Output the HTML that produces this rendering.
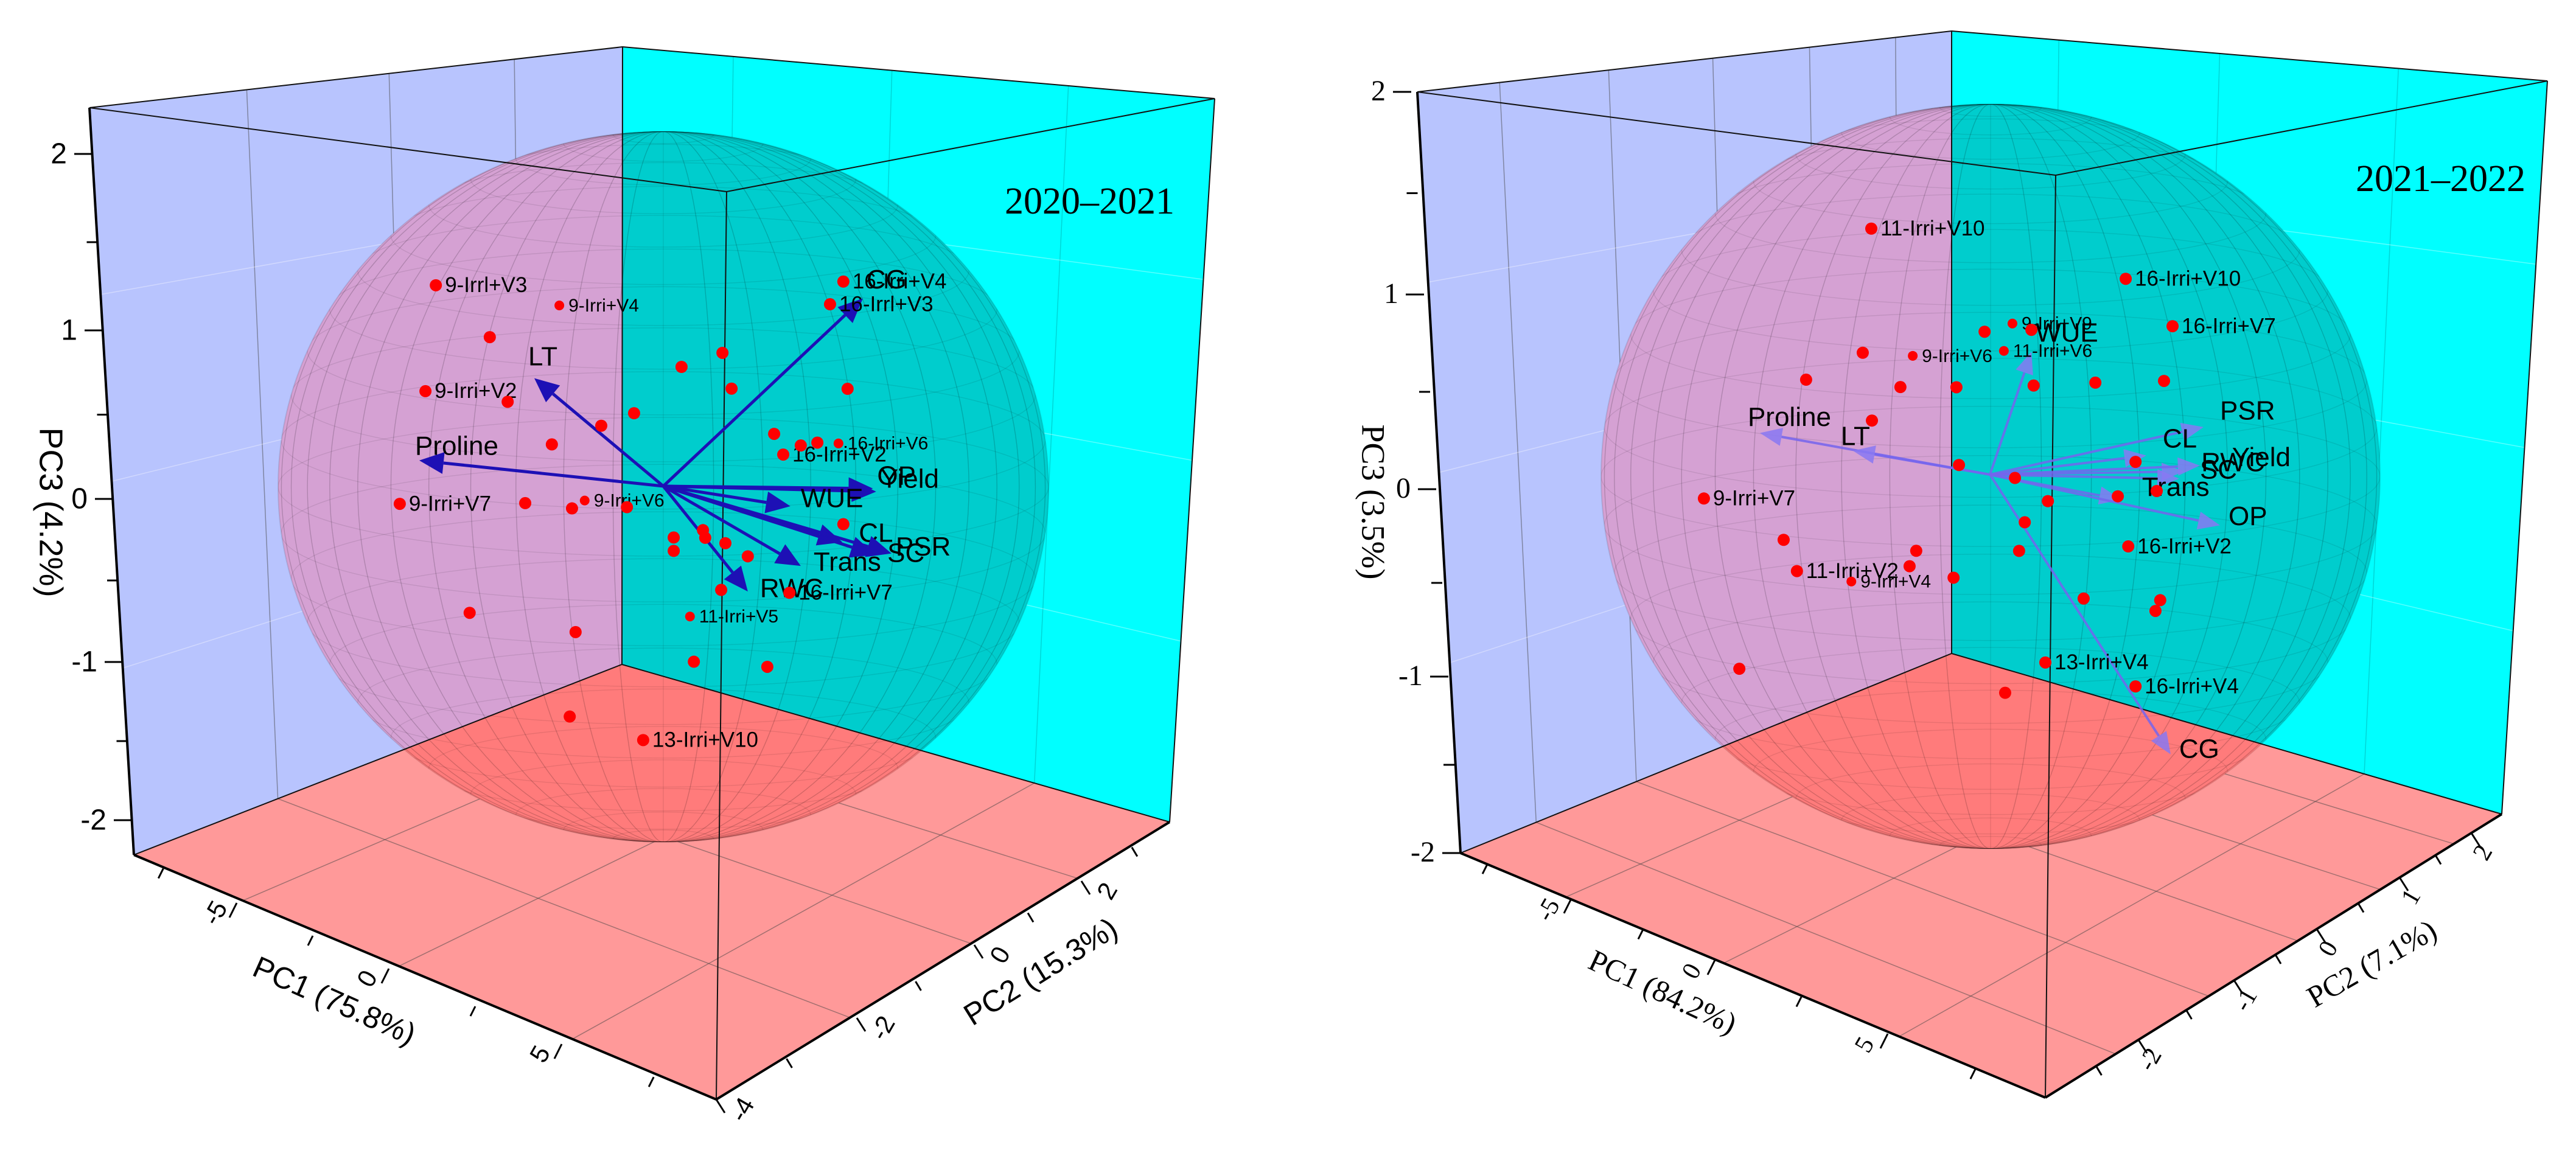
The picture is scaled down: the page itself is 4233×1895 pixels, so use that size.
<!DOCTYPE html>
<html>
<head>
<meta charset="utf-8">
<style>
html,body{margin:0;padding:0;background:#fff;}
svg{display:block;}
</style>
</head>
<body>
<svg id="chart" width="4233" height="1895" viewBox="0 0 4233 1895">
<rect x="0" y="0" width="4233" height="1895" fill="#ffffff"/>
</svg>
<script>
// ---------------- DATA: 2020-2021 ----------------
const leftPc1 = [-7.00,-3.20,-5.34,-7.32,-4.79,-1.91,-3.43,-0.90,-8.11,-4.25,-2.81,-2.42,-1.12,0.56,1.82,2.10,5.54,5.13,5.67,3.41,3.69,4.23,4.74,5.39,5.54,0.32,0.32,1.22,1.29,1.91,2.60,1.78,3.88,0.82,0.94,3.20,-5.96,-2.70,-2.88,-0.62];
const leftPc3 = [0.61,0.81,0.44,-0.05,0.10,0.20,-0.04,0.36,-0.79,-0.46,-0.37,-0.29,-0.22,0.76,0.95,0.76,1.69,1.52,1.06,0.60,0.50,0.60,0.66,0.71,0.24,-0.28,-0.36,-0.16,-0.20,-0.18,-0.20,-0.47,-0.31,-0.71,-0.97,-0.81,-1.26,-1.10,-1.62,-1.57];
const leftSampleLabels = ["9-Irrl+V3","9-Irri+V4","","9-Irri+V2","","","","","9-Irri+V7","","","9-Irri+V6","","","","","16-Irri+V4","16-Irrl+V3","","","16-Irri+V2","","","16-Irri+V6","","","","","","","","","16-Irri+V7","11-Irri+V5","","","","","","13-Irri+V10"];
const leftVars = ["LT","Proline","CG","OP","Yield","WUE","CL","SC","PSR","Trans","RWC"];
const leftVarPc1 = [-3.97,-7.51,6.14,6.45,6.55,3.91,5.51,6.52,7.02,4.23,2.60];
const leftVarPc3 = [0.31,-0.48,1.64,0.53,0.52,0.21,0.13,0.14,0.19,-0.12,-0.41];
const leftPc1Ticks = ["-5","0","5"];
const leftPc2Ticks = ["-4","-2","0","2"];
const leftPc3Ticks = ["-2","-1","0","1","2"];

// ---------------- DATA: 2021-2022 ----------------
const rightPc1 = [-3.75,4.29,5.77,0.71,-0.17,1.31,0.44,-2.44,-4.02,-5.81,-2.83,-1.06,1.38,3.33,5.50,-3.73,-0.98,0.79,4.60,5.27,4.04,1.83,-9.04,1.10,-6.52,-2.33,0.92,4.37,-6.10,-2.54,-4.38,-1.15,2.96,5.38,5.23,1.75,4.60,0.48,-7.92];
const rightPc3 = [1.07,1.39,1.24,0.88,0.77,0.89,0.71,0.47,0.37,0.09,0.27,0.40,0.59,0.75,0.92,0.02,-0.02,0.04,0.41,0.30,0.18,-0.01,-0.80,-0.18,-0.84,-0.59,-0.35,-0.07,-0.98,-0.69,-0.91,-0.65,-0.46,-0.29,-0.36,-0.90,-0.82,-1.16,-1.65];
const rightSampleLabels = ["11-Irri+V10","16-Irri+V10","16-Irri+V7","9-Irri+V9","","","11-Irri+V6","9-Irri+V6","","","","","","","","","","","","","","","9-Irri+V7","","","","","16-Irri+V2","11-Irri+V2","","9-Irri+V4","","","","","13-Irri+V4","16-Irri+V4","",""];
const rightVars = ["Proline","LT","WUE","PSR","CL","RWC","Yield","SC","Trans","OP","CG"];
const rightVarPc1 = [-7.27,-4.33,1.31,6.75,4.94,6.12,6.63,5.98,4.15,7.27,5.71];
const rightVarPc3 = [-0.31,-0.19,0.77,0.76,0.47,0.47,0.54,0.42,0.17,0.26,-1.11];
const rightPc1Ticks = ["-5","0","5"];
const rightPc2Ticks = ["-2","-1","0","1","2"];
const rightPc3Ticks = ["-2","-1","0","1","2"];

// ---------------- LAYOUT (geometry / styles) ----------------
const smallLabelsLeft = ["9-Irri+V4","9-Irri+V6","16-Irri+V6","11-Irri+V5"];
const smallLabelsRight = ["9-Irri+V9","11-Irri+V6","9-Irri+V6","9-Irri+V4"];
const leftLabelOff = [[-10,-33],[-7,-21],[6,-28],[7,-18],[7,-18],[17,-10],[27,-12],[20,0],[7,-8],[21,-4],[20,-2]];
const rightLabelOff = [[-20,-23],[-20,-21],[7,-28],[27,-24],[27,-25],[29,-12],[53,-11],[34,-12],[34,-18],[14,-12],[14,-6]];

const panels = [
 {id:"left", tickFont:'"Liberation Sans", sans-serif',
  TL:[147,177], BT:[1023,77], TR:[1996,162], FT:[1194,315], BB:[1022,1092], BL:[220,1405], BR:[1922,1351], FB:[1177,1807],
  O:[1090,799], e1:[53.4,23.2], e3:275, sph:[1090,800,633,584],
  blueFr:[0.295,0.562,0.797], cyanFr:[0.187,0.455,0.753],
  pc1Anch:[[-8.5,220,1405],[-5,389,1484],[0,639,1592],[5,923,1716],[9.2,1177,1807]],
  pc2Anch:[[-4,1177,1807],[-2,1408,1673],[0,1601,1553],[2,1777,1448],[3.75,1922,1351]],
  pc3Anch:[[2.28,147,177],[2,152,253],[1,169,543],[0,186,820],[-1,202,1088],[-2,217,1348],[-2.22,220,1405]],
  pc1Minor:[-7.5,-2.5,2.5,7.5], pc2Minor:[-3,-1,1,3], pc3Minor:[-1.5,-0.5,0.5,1.5],
  pc1LabOff:[-33,18], pc2LabOff:[45,18],
  pc1Title:"PC1 (75.8%)", pc1TitlePos:[548,1648,24],
  pc2Title:"PC2 (15.3%)", pc2TitlePos:[1712,1600,-32],
  pc3Title:"PC3 (4.2%)", pc3TitlePos:[80,842],
  title:"2020\u20132021", titlePos:[1651,351],
  pc1:leftPc1, pc3:leftPc3, labels:leftSampleLabels, small:smallLabelsLeft,
  vars:leftVars, vpc1:leftVarPc1, vpc3:leftVarPc3, voff:leftLabelOff,
  t1:leftPc1Ticks, t2:leftPc2Ticks, t3:leftPc3Ticks,
  arrowStroke:"#1d10b5", arrowFill:"#1d10b5", arrowOpacity:1, arrowWidth:5, AL:40, AW:18},
 {id:"right", tickFont:'"Liberation Serif", serif',
  TL:[2329,151], BT:[3207,51], TR:[4186,133], FT:[3378,288], BB:[3207,1074], BL:[2400,1402], BR:[4111,1338], FB:[3361,1804],
  O:[3270,780], e1:[52,22.2], e3:300, sph:[3271,783,640,612],
  blueFr:[0.154,0.358,0.553,0.734,0.895], cyanFr:[0.18,0.45,0.75],
  pc1Anch:[[-8.3,2400,1402],[-5,2582,1477],[0,2818,1578],[5,3102,1699],[9.5,3361,1804]],
  pc2Anch:[[-3.1,3361,1804],[-2,3514,1709],[-1,3671,1611],[0,3807,1527],[1,3943,1442],[2,4061,1369],[2.4,4111,1338]],
  pc3Anch:[[2.0,2319,151],[1,2340,484],[0,2360,804],[-1,2380,1112],[-2,2400,1402]],
  pc1Minor:[-7.5,-2.5,2.5,7.5], pc2Minor:[-2.5,-1.5,-0.5,0.5,1.5], pc3Minor:[-1.5,-0.5,0.5,1.5],
  pc1LabOff:[-35,20], pc2LabOff:[22,34],
  pc1Title:"PC1 (84.2%)", pc1TitlePos:[2730,1635,25],
  pc2Title:"PC2 (7.1%)", pc2TitlePos:[3900,1588,-30],
  pc3Title:"PC3 (3.5%)", pc3TitlePos:[2251,825],
  title:"2021\u20132022", titlePos:[3871,314],
  pc1:rightPc1, pc3:rightPc3, labels:rightSampleLabels, small:smallLabelsRight,
  vars:rightVars, vpc1:rightVarPc1, vpc3:rightVarPc3, voff:rightLabelOff,
  t1:rightPc1Ticks, t2:rightPc2Ticks, t3:rightPc3Ticks,
  arrowStroke:"#7565ee", arrowFill:"#8878f2", arrowOpacity:0.85, arrowWidth:4, AL:36, AW:15}
];

const svg = document.getElementById('chart');
const NS = svg.namespaceURI;
function el(tag, attrs, parent){
  const e = document.createElementNS(NS, tag);
  for (const k in attrs) e.setAttribute(k, attrs[k]);
  parent.appendChild(e);
  return e;
}
function pts(a){ return a.map(p => p[0]+','+p[1]).join(' '); }
function lerp(a,b,t){ return [a[0]+(b[0]-a[0])*t, a[1]+(b[1]-a[1])*t]; }
function axisPos(anch, v){
  const a = anch.slice().sort((p,q)=>p[0]-q[0]);
  let i = 0;
  while (i < a.length-2 && v > a[i+1][0]) i++;
  const t = (v - a[i][0])/(a[i+1][0]-a[i][0]);
  return [a[i][1]+(a[i+1][1]-a[i][1])*t, a[i][2]+(a[i+1][2]-a[i][2])*t];
}
function project(P, pc1, pc3){
  return [P.O[0] + pc1*P.e1[0], P.O[1] + pc1*P.e1[1] - pc3*P.e3];
}

panels.forEach(P => {
  const g = el('g', {}, svg);
  
  
  const defs = el('defs', {}, g);

  const blue = el('polygon', {points: pts([P.TL,P.BT,P.BB,P.BL]), fill:'#b8c4fe'}, g);
  
  
  const cyan = el('polygon', {points: pts([P.BT,P.TR,P.BR,P.BB]), fill:'#00ffff'}, g);
  
  
  const floor = el('polygon', {points: pts([P.BL,P.BB,P.BR,P.FB]), fill:'#ff9999'}, g);
  
  

  const grid = el('g', {stroke:'rgba(70,70,70,0.5)', 'stroke-width':1.5, fill:'none'}, g);
  
  
  P.blueFr.forEach(t => {
    const a = lerp(P.TL,P.BT,t), b = lerp(P.BL,P.BB,t), c = lerp(P.FB,P.BR,t);
    el('line', {x1:a[0],y1:a[1],x2:b[0],y2:b[1]}, grid);
    el('line', {x1:b[0],y1:b[1],x2:c[0],y2:c[1]}, grid);
  });
  P.cyanFr.forEach(t => {
    const a = lerp(P.BT,P.TR,t), b = lerp(P.BB,P.BR,t), c = lerp(P.BL,P.FB,t);
    el('line', {x1:a[0],y1:a[1],x2:b[0],y2:b[1], stroke:'rgba(0,120,120,0.3)'}, grid);
    el('line', {x1:b[0],y1:b[1],x2:c[0],y2:c[1]}, grid);
  });
  [0.25,0.5,0.75].forEach(t => {
    const a = lerp(P.TL,P.BL,t), b = lerp(P.BT,P.BB,t), c = lerp(P.TR,P.BR,t);
    el('line', {x1:a[0],y1:a[1],x2:b[0],y2:b[1], stroke:'rgba(255,255,255,0.35)'}, grid);
    el('line', {x1:b[0],y1:b[1],x2:c[0],y2:c[1], stroke:'rgba(255,255,255,0.35)'}, grid);
  });

  const [cx,cy,rx,ry] = P.sph;
  const cpB = el('clipPath', {id:'cb-'+P.id}, defs);
  el('polygon', {points: pts([P.TL,P.BT,P.BB,P.BL])}, cpB);
  const cpC = el('clipPath', {id:'cc-'+P.id}, defs);
  el('polygon', {points: pts([P.BT,P.TR,P.BR,P.BB])}, cpC);
  const cpF = el('clipPath', {id:'cf-'+P.id}, defs);
  el('polygon', {points: pts([P.BL,P.BB,P.BR,P.FB])}, cpF);
  const cpS = el('clipPath', {id:'cs-'+P.id}, defs);
  el('ellipse', {cx:cx,cy:cy,rx:rx,ry:ry}, cpS);

  const sph = el('g', {}, g);
  
  
  el('ellipse', {cx:cx,cy:cy,rx:rx,ry:ry, fill:'#d5a1d3', 'clip-path':'url(#cb-'+P.id+')'}, sph);
  el('ellipse', {cx:cx,cy:cy,rx:rx,ry:ry, fill:'#00cdcd', 'clip-path':'url(#cc-'+P.id+')'}, sph);
  el('ellipse', {cx:cx,cy:cy,rx:rx,ry:ry, fill:'#ff7b7b', 'clip-path':'url(#cf-'+P.id+')'}, sph);
  const wire = el('g', {fill:'none', stroke:'rgba(0,0,0,0.09)', 'stroke-width':1.4, 'clip-path':'url(#cs-'+P.id+')'}, sph);
  for (let k = 1; k < 24; k++) {
    const ang = k*Math.PI/24;
    el('ellipse', {cx:cx, cy:cy, rx:Math.abs(rx*Math.cos(ang)), ry:ry}, wire);
  }
  for (let k = -11; k <= 11; k++) {
    const lat = k*Math.PI/24;
    const yy = cy + ry*Math.sin(lat), rr = rx*Math.cos(lat);
    el('ellipse', {cx:cx, cy:yy, rx:rr, ry:rr*0.18}, wire);
  }
  el('ellipse', {cx:cx,cy:cy,rx:rx,ry:ry, fill:'none', stroke:'rgba(0,0,0,0.1)', 'stroke-width':2}, sph);

  const edges = el('g', {stroke:'#111', 'stroke-width':2, fill:'none'}, g);
  
  
  el('polyline', {points: pts([P.TL,P.BT,P.TR])}, edges);
  el('line', {x1:P.BT[0],y1:P.BT[1],x2:P.BB[0],y2:P.BB[1]}, edges);
  el('polyline', {points: pts([P.BL,P.BB,P.BR])}, edges);
  el('line', {x1:P.TR[0],y1:P.TR[1],x2:P.BR[0],y2:P.BR[1]}, edges);
  el('polyline', {points: pts([P.TL,P.FT,P.TR])}, edges);
  el('line', {x1:P.FT[0],y1:P.FT[1],x2:P.FB[0],y2:P.FB[1]}, edges);

  const arrows = el('g', {}, g);
  
  
  P.vars.forEach((name, i) => {
    const h = project(P, P.vpc1[i], P.vpc3[i]);
    const dx = h[0]-P.O[0], dy = h[1]-P.O[1], L = Math.hypot(dx,dy);
    const ux = dx/L, uy = dy/L, nx = -uy, ny = ux;
    const bx = h[0]-ux*P.AL, by = h[1]-uy*P.AL;
    const ln = el('line', {x1:P.O[0],y1:P.O[1],x2:bx,y2:by, stroke:P.arrowStroke, 'stroke-width':P.arrowWidth, opacity:P.arrowOpacity}, arrows);
    
    
    const hd = el('polygon', {points: pts([h,[bx+nx*P.AW,by+ny*P.AW],[bx-nx*P.AW,by-ny*P.AW]]), fill:P.arrowFill, opacity:P.arrowOpacity}, arrows);
    
    
    const tx = el('text', {x:h[0]+P.voff[i][0], y:h[1]+P.voff[i][1], 'font-family':'"Liberation Sans", sans-serif', 'font-size':44, fill:'#000', 'dominant-baseline':'middle'}, arrows);
    tx.textContent = name;
    
    
  });

  const points = el('g', {}, g);
  
  
  P.pc1.forEach((v, i) => {
    const p = project(P, v, P.pc3[i]);
    const lab = P.labels[i];
    const isSmall = P.small.indexOf(lab) >= 0;
    const c = el('circle', {cx:p[0], cy:p[1], r: isSmall ? 8 : 10, fill:'#ff0000'}, points);
    
    
    if (lab) {
      const t = el('text', {x:p[0]+15, y:p[1]+2, 'font-family':'"Liberation Sans", sans-serif', 'font-size': isSmall ? 30 : 35, fill:'#000', 'dominant-baseline':'middle'}, points);
      t.textContent = lab;
      
      
    }
  });

  const ax = el('g', {stroke:'#000', 'stroke-width':4, fill:'none'}, g);
  
  
  el('line', {x1:P.TL[0],y1:P.TL[1],x2:P.BL[0],y2:P.BL[1]}, ax);
  el('line', {x1:P.BL[0],y1:P.BL[1],x2:P.FB[0],y2:P.FB[1]}, ax);
  el('line', {x1:P.FB[0],y1:P.FB[1],x2:P.BR[0],y2:P.BR[1]}, ax);

  const tickG = el('g', {}, g);
  
  
  P.t3.forEach(s => {
    const q = axisPos(P.pc3Anch, parseFloat(s));
    el('line', {x1:q[0]-30,y1:q[1],x2:q[0],y2:q[1], stroke:'#000','stroke-width':3}, tickG);
    const t = el('text', {x:q[0]-42, y:q[1]+3, 'font-family':P.tickFont, 'font-size':48, 'text-anchor':'end', 'dominant-baseline':'middle', fill:'#000'}, tickG);
    t.textContent = s;
    
    
  });
  P.pc3Minor.forEach(v => {
    const q = axisPos(P.pc3Anch, v);
    el('line', {x1:q[0]-18,y1:q[1],x2:q[0],y2:q[1], stroke:'#000','stroke-width':3}, tickG);
  });
  P.t1.forEach(s => {
    const q = axisPos(P.pc1Anch, parseFloat(s));
    el('line', {x1:q[0],y1:q[1],x2:q[0]-12,y2:q[1]+24, stroke:'#000','stroke-width':3}, tickG);
    const lx = q[0]+P.pc1LabOff[0], ly = q[1]+P.pc1LabOff[1];
    const t = el('text', {x:lx, y:ly, 'font-family':P.tickFont, 'font-size':42, 'text-anchor':'middle', 'dominant-baseline':'middle', fill:'#000', transform:'rotate(-60 '+lx+' '+ly+')'}, tickG);
    t.textContent = s;
    
    
  });
  P.pc1Minor.forEach(v => {
    const q = axisPos(P.pc1Anch, v);
    el('line', {x1:q[0],y1:q[1],x2:q[0]-8,y2:q[1]+16, stroke:'#000','stroke-width':3}, tickG);
  });
  P.t2.forEach(s => {
    const q = axisPos(P.pc2Anch, parseFloat(s));
    el('line', {x1:q[0],y1:q[1],x2:q[0]+14,y2:q[1]+22, stroke:'#000','stroke-width':3}, tickG);
    const lx = q[0]+P.pc2LabOff[0], ly = q[1]+P.pc2LabOff[1];
    const t = el('text', {x:lx, y:ly, 'font-family':P.tickFont, 'font-size':42, 'text-anchor':'middle', 'dominant-baseline':'middle', fill:'#000', transform:'rotate(-60 '+lx+' '+ly+')'}, tickG);
    t.textContent = s;
    
    
  });
  P.pc2Minor.forEach(v => {
    const q = axisPos(P.pc2Anch, v);
    el('line', {x1:q[0],y1:q[1],x2:q[0]+9,y2:q[1]+15, stroke:'#000','stroke-width':3}, tickG);
  });

  const t1 = el('text', {x:P.pc1TitlePos[0], y:P.pc1TitlePos[1], 'font-family':P.tickFont, 'font-size':50, 'text-anchor':'middle', 'dominant-baseline':'middle', fill:'#000', transform:'rotate('+P.pc1TitlePos[2]+' '+P.pc1TitlePos[0]+' '+P.pc1TitlePos[1]+')'}, g);
  t1.textContent = P.pc1Title;
  
  
  const t2 = el('text', {x:P.pc2TitlePos[0], y:P.pc2TitlePos[1], 'font-family':P.tickFont, 'font-size':50, 'text-anchor':'middle', 'dominant-baseline':'middle', fill:'#000', transform:'rotate('+P.pc2TitlePos[2]+' '+P.pc2TitlePos[0]+' '+P.pc2TitlePos[1]+')'}, g);
  t2.textContent = P.pc2Title;
  
  
  const t3 = el('text', {x:P.pc3TitlePos[0], y:P.pc3TitlePos[1], 'font-family':P.tickFont, 'font-size':54, 'text-anchor':'middle', 'dominant-baseline':'middle', fill:'#000', transform:'rotate(90 '+P.pc3TitlePos[0]+' '+P.pc3TitlePos[1]+')'}, g);
  t3.textContent = P.pc3Title;
  
  

  const ti = el('text', {x:P.titlePos[0], y:P.titlePos[1], 'font-family':'"Liberation Serif", serif', 'font-size':62, fill:'#000'}, g);
  ti.textContent = P.title;
  
  
});
</script>
</body>
</html>
